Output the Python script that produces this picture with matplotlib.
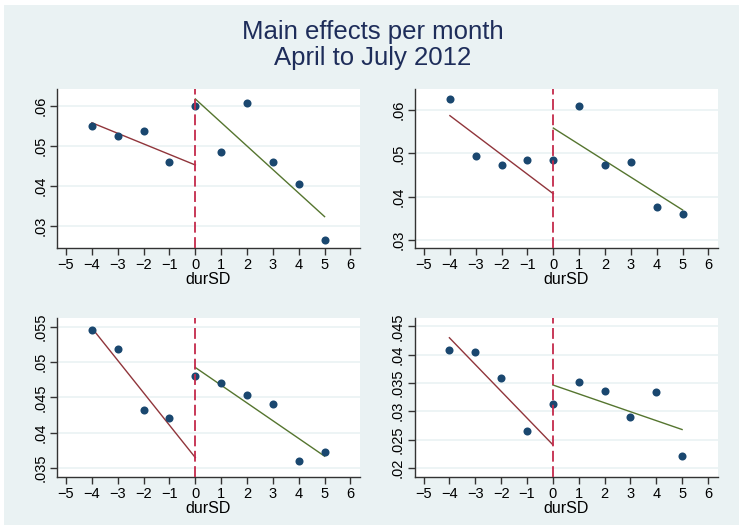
import matplotlib
matplotlib.use('Agg')
import matplotlib.pyplot as plt
import numpy as np
from matplotlib.patches import Rectangle

plt.rcParams['font.family'] = ['Liberation Sans', 'DejaVu Sans']

# ---- data ----
dur = [-4, -3, -2, -1, 0, 1, 2, 3, 4, 5]
april = [0.0551, 0.0526, 0.0538, 0.0459, 0.0599, 0.0486, 0.0608, 0.0459, 0.0406, 0.0265]
may = [0.0627, 0.0495, 0.0472, 0.0484, 0.0485, 0.0610, 0.0473, 0.0481, 0.0375, 0.0359]
june = [0.0545, 0.0519, 0.0432, 0.0421, 0.0480, 0.0470, 0.0453, 0.0441, 0.0359, 0.0373]
july = [0.0408, 0.0404, 0.0358, 0.0266, 0.0312, 0.0351, 0.0335, 0.0290, 0.0334, 0.0221]

xticks = [-5, -4, -3, -2, -1, 0, 1, 2, 3, 4, 5, 6]
xticklabels = ['\u22125', '\u22124', '\u22123', '\u22122', '\u22121', '0', '1', '2', '3', '4', '5', '6']

yticks_a = [0.03, 0.04, 0.05, 0.06]
ylabels_a = ['.03', '.04', '.05', '.06']
yticks_b = [0.03, 0.04, 0.05, 0.06]
ylabels_b = ['.03', '.04', '.05', '.06']
yticks_c = [0.035, 0.04, 0.045, 0.05, 0.055]
ylabels_c = ['.035', '.04', '.045', '.05', '.055']
yticks_d = [0.02, 0.025, 0.03, 0.035, 0.04, 0.045]
ylabels_d = ['.02', '.025', '.03', '.035', '.04', '.045']

title_lines = ['Main effects per month', 'April to July 2012']
xlabel = 'durSD'

# ---- style ----
W, H = 739, 525
BG = '#EAF2F3'
MARK = '#1A476F'
RED = '#90353B'
GREEN = '#55752F'
VLINE = '#C42A4B'
SPINE = '#333333'

fig = plt.figure(figsize=(W / 100, H / 100), dpi=100)
fig.patch.set_facecolor('white')
fig.patches.append(Rectangle((4 / W, 0), 1, (H - 5) / H, transform=fig.transFigure,
                             facecolor=BG, edgecolor='none', zorder=-10))


def ax_at(l, r, t, b):
    return fig.add_axes([l / W, (H - b) / H, (r - l) / W, (b - t) / H])


panels = [
    (ax_at(57, 360, 89, 248), april, yticks_a, ylabels_a, (0.0245, 0.06425)),
    (ax_at(415, 718, 89, 248), may, yticks_b, ylabels_b, (0.0281, 0.0649)),
    (ax_at(57, 360, 318, 477), june, yticks_c, ylabels_c, (0.0337, 0.05623)),
    (ax_at(414.5, 717.5, 318, 477), july, yticks_d, ylabels_d, (0.0184, 0.04647)),
]

x = np.array(dur)
for ax, vals, yt, yl, ylim in panels:
    y = np.array(vals)
    ax.set_facecolor('white')
    ax.set_xlim(-5.35, 6.37)
    ax.set_ylim(*ylim)
    ax.set_yticks(yt)
    ax.set_yticklabels(yl, rotation=90, va='center')
    ax.set_xticks(xticks)
    ax.set_xticklabels(xticklabels)
    ax.yaxis.grid(True, color=BG, lw=1.2, zorder=0)
    ax.set_axisbelow(True)
    for s in ['top', 'right']:
        ax.spines[s].set_visible(False)
    for s in ['left', 'bottom']:
        ax.spines[s].set_color(SPINE)
        ax.spines[s].set_linewidth(1.0)
    ax.tick_params(direction='out', length=5, width=1, color=SPINE,
                   labelsize=10.5, pad=2, labelcolor='black')

    # fitted lines: before (x<0) extended to 0, after (x>=0)
    left = x < 0
    right = x >= 0
    pl = np.polyfit(x[left], y[left], 1)
    pr = np.polyfit(x[right], y[right], 1)
    xl = np.array([x[left].min(), 0])
    xr = np.array([0, x[right].max()])
    ax.plot(xl, np.polyval(pl, xl), color=RED, lw=1.0, zorder=3)
    ax.plot(xr, np.polyval(pr, xr), color=GREEN, lw=1.0, zorder=3)

    ax.plot(x, y, 'o', color=MARK, ms=5.8, mec='none', zorder=4)
    ax.axvline(0, color=VLINE, lw=1.3, dashes=(6, 2.5), zorder=5)

    ax.set_xlabel(xlabel, fontsize=11.5, labelpad=0)

fig.text(373 / W, 1 - 38.7 / H, title_lines[0], ha='center', va='baseline',
         fontsize=18.5, color='#1E2D5A')
fig.text(373 / W, 1 - 64.7 / H, title_lines[1], ha='center', va='baseline',
         fontsize=18.5, color='#1E2D5A')

fig.savefig('out.png', dpi=100, facecolor=fig.get_facecolor())
